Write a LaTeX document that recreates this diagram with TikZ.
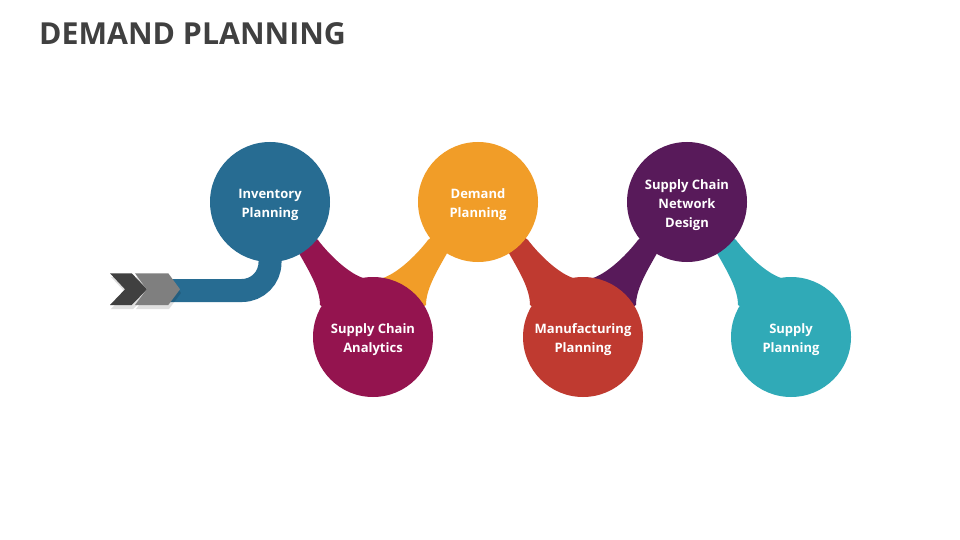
\documentclass[tikz,border=0pt]{standalone}
\usepackage{fontspec}
\setmainfont{Open Sans}
\usetikzlibrary{backgrounds}
\pgfdeclarelayer{bottom}
\pgfsetlayers{bottom,background,main}
\definecolor{cBlue}{HTML}{276C92}
\definecolor{cMag}{HTML}{94144F}
\definecolor{cOrg}{HTML}{F19D28}
\definecolor{cRed}{HTML}{BF3A30}
\definecolor{cPur}{HTML}{581A5A}
\definecolor{cTeal}{HTML}{30AAB7}
\definecolor{cTitle}{HTML}{404040}
\definecolor{cDark}{HTML}{404040}
\definecolor{cLight}{HTML}{7F7F7F}
\tikzset{
  circ/.style={circle, minimum size=120, inner sep=0},
  lbl/.style={inner sep=0, align=center, text=white,
    font=\fontsize{13}{19}\selectfont\bfseries}
}
\newcommand\neckshape[1]{%
  \fill[#1] (-103,-135) -- (-73,-82) .. controls (-64,-66) and (-53,-48) .. (-53,-32)
    -- (0,0) -- (-10,-59) .. controls (-27,-65) and (-46,-85) .. (-55,-97) -- cycle;}
\begin{document}
\begin{tikzpicture}[x=1pt,y=-1pt]
\useasboundingbox (0,0) rectangle (960,540);
\begin{pgfonlayer}{bottom}
\fill[white] (0,0) rectangle (960,540);
\end{pgfonlayer}
\node[anchor=base west, inner sep=0, text=cTitle, font=\fontsize{30.3}{36}\selectfont\bfseries] (title) at (39,45) {DEMAND PLANNING};

\node[circ, fill=cBlue] (inv) at (270,202) {};
\node[circ, fill=cMag]  (ana) at (373,337) {};
\node[circ, fill=cOrg]  (dem) at (478,202) {};
\node[circ, fill=cRed]  (man) at (583,337) {};
\node[circ, fill=cPur]  (scn) at (687,202) {};
\node[circ, fill=cTeal] (sup) at (791,337) {};

\node[lbl] (invT) at ([yshift=-3]inv.center) {Inventory\\Planning};
\node[lbl] (anaT) at ([yshift=-3]ana.center) {Supply Chain\\Analytics};
\node[lbl] (demT) at ([yshift=-3]dem.center) {Demand\\Planning};
\node[lbl] (manT) at ([yshift=-3]man.center) {Manufacturing\\Planning};
\node[lbl] (scnT) at ([yshift=-3]scn.center) {Supply Chain\\Network\\Design};
\node[lbl] (supT) at ([yshift=-3]sup.center) {Supply\\Planning};

\coordinate (tailend) at (165,290.5);
\begin{pgfonlayer}{background}
  \begin{scope}[shift={(ana.center)}] \neckshape{cMag} \end{scope}
  \begin{scope}[shift={(ana.center)}, xscale=-1] \neckshape{cOrg} \end{scope}
  \begin{scope}[shift={(man.center)}] \neckshape{cRed} \end{scope}
  \begin{scope}[shift={(man.center)}, xscale=-1] \neckshape{cPur} \end{scope}
  \begin{scope}[shift={(sup.center)}] \neckshape{cTeal} \end{scope}
  \draw[cBlue, line width=23, rounded corners=28] (inv.center) -- (inv.center |- tailend) -- (tailend);
\end{pgfonlayer}

% chevrons
\fill[black, opacity=0.12] (111,277) -- (133,277) -- (149,293) -- (133,309) -- (111,309) -- (126,293) -- cycle;
\fill[black, opacity=0.12] (136,277) -- (169,277) -- (181,293) -- (169,309) -- (136,309) -- (148,293) -- cycle;
\fill[cDark] (110,273.3) -- (131.7,273.3) -- (147,289.3) -- (131.7,305) -- (110,305) -- (125,289.3) -- cycle;
\fill[cLight] (135,273.3) -- (168.3,273.3) -- (180,289.3) -- (168.3,305) -- (135,305) -- (146.7,289.3) -- cycle;
\end{tikzpicture}
\end{document}
